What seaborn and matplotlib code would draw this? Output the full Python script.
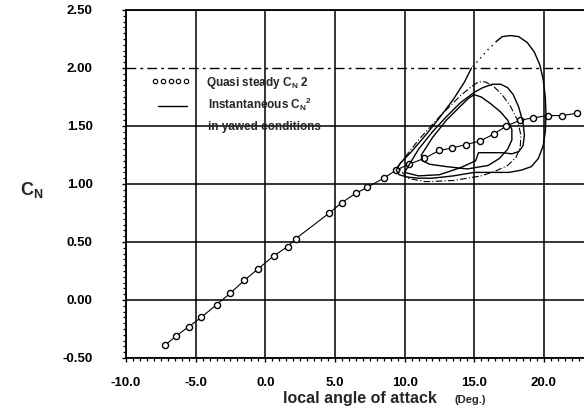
import numpy as np
import pandas as pd
import matplotlib
matplotlib.use("Agg")
import matplotlib.pyplot as plt
import seaborn as sns

# ---------------- data ----------------
qs_alpha = [-7.2, -6.4, -5.5, -4.6, -3.5, -2.5, -1.5, -0.5, 0.6, 1.6, 2.2,
            4.6, 5.5, 6.5, 7.3, 8.5, 9.4, 10.3, 11.4, 12.5, 13.4, 14.4,
            15.4, 16.4, 17.3, 18.3, 19.2, 20.3, 21.3, 22.4]
qs_cn = [-0.39, -0.31, -0.23, -0.15, -0.04, 0.06, 0.17, 0.27, 0.38, 0.46, 0.53,
         0.75, 0.84, 0.92, 0.97, 1.05, 1.12, 1.17, 1.22, 1.29, 1.31, 1.34,
         1.37, 1.43, 1.50, 1.55, 1.57, 1.59, 1.59, 1.61]

# largest loop (solid part)
loop1_alpha = [14.8, 14.3, 13.5, 12.5, 11.5, 10.5, 9.7, 9.4, 9.6, 10.2, 11.0,
               12.0, 13.5, 15.0, 16.5, 17.5, 18.4, 19.1, 19.6, 19.95, 20.1,
               20.15, 20.1, 19.95, 19.7, 19.3, 18.8, 18.2, 17.6, 17.0, 16.6]
loop1_cn = [2.00, 1.88, 1.73, 1.57, 1.42, 1.28, 1.18, 1.12, 1.08, 1.06, 1.05,
            1.05, 1.07, 1.10, 1.10, 1.10, 1.12, 1.15, 1.22, 1.33, 1.45,
            1.60, 1.75, 1.90, 2.03, 2.14, 2.22, 2.27, 2.28, 2.27, 2.23]
# largest loop (dotted part)
loop1d_alpha = [16.6, 16.0, 15.4, 14.8]
loop1d_cn = [2.23, 2.16, 2.08, 2.00]

loop2_alpha = [10.0, 11.0, 12.0, 13.0, 14.0, 15.0, 15.6, 16.3, 16.9, 17.4,
               17.8, 18.2, 18.5, 18.6, 18.5, 18.2, 17.7, 17.0, 15.3, 15.1,
               14.0, 12.5, 11.0, 10.0]
loop2_cn = [1.10, 1.30, 1.45, 1.58, 1.70, 1.79, 1.83, 1.86, 1.86, 1.83,
            1.77, 1.66, 1.53, 1.42, 1.33, 1.28, 1.26, 1.27, 1.27, 1.20,
            1.14, 1.08, 1.07, 1.10]

loop3_alpha = [9.5, 11.0, 12.5, 14.0, 14.8, 15.3, 15.8, 16.4, 17.0, 17.6,
               18.1, 18.35, 18.3, 18.0, 17.4, 16.5, 15.5, 13.5, 11.5, 10.2, 9.5]
loop3_cn = [1.15, 1.38, 1.58, 1.76, 1.84, 1.88, 1.88, 1.84, 1.77, 1.67,
            1.55, 1.42, 1.32, 1.23, 1.16, 1.11, 1.07, 1.03, 1.02, 1.05, 1.15]

loop4_alpha = [11.2, 12.0, 13.0, 14.0, 14.6, 15.0, 15.5, 16.2, 16.9, 17.4,
               17.7, 17.7, 17.4, 16.8, 16.0, 14.5, 13.0, 11.8, 11.3, 11.2]
loop4_cn = [1.25, 1.40, 1.55, 1.67, 1.74, 1.77, 1.75, 1.69, 1.62, 1.55,
            1.47, 1.38, 1.30, 1.22, 1.16, 1.13, 1.15, 1.17, 1.20, 1.25]

x_ticks = [-10, -5, 0, 5, 10, 15, 20]
x_labels = ["-10.0", "-5.0", "0.0", "5.0", "10.0", "15.0", "20.0"]
y_ticks = [-0.5, 0.0, 0.5, 1.0, 1.5, 2.0, 2.5]
y_labels = ["-0.50", "0.00", "0.50", "1.00", "1.50", "2.00", "2.50"]

# ---------------- style ----------------
sns.set_theme(style="white")
plt.rcParams["font.family"] = ["Liberation Sans", "DejaVu Sans"]
plt.rcParams["font.weight"] = "bold"
plt.rcParams["mathtext.fontset"] = "custom"
plt.rcParams["mathtext.rm"] = "Liberation Sans:bold"
plt.rcParams["mathtext.it"] = "Liberation Sans:bold"
plt.rcParams["mathtext.bf"] = "Liberation Sans:bold"

W, H = 584, 420
fig = plt.figure(figsize=(W / 100, H / 100), dpi=100)
ax_left, ax_right, ax_top, ax_bot = 126, 585.7, 10, 358
ax = fig.add_axes([ax_left / W, (H - ax_bot) / H,
                   (ax_right - ax_left) / W, (ax_bot - ax_top) / H])
ax.set_xlim(-10, 23)
ax.set_ylim(-0.5, 2.5)

# grid
ax.set_xticks(x_ticks)
ax.set_xticklabels(x_labels)
ax.set_yticks(y_ticks)
ax.set_yticklabels(y_labels)
ax.set_xticks(np.arange(-10, 23.01, 0.5), minor=True)
ax.set_yticks(np.arange(-0.5, 2.501, 0.05), minor=True)
ax.grid(True, which="major", color="black", lw=1.1)
for tick_val, gl in zip(y_ticks, ax.yaxis.get_gridlines()):
    if abs(tick_val - 2.0) < 1e-9:
        gl.set_linestyle((0, (7, 3, 2, 3)))
        gl.set_linewidth(1.0)

for side in ["left", "bottom", "top"]:
    ax.spines[side].set_visible(True)
    ax.spines[side].set_color("black")
    ax.spines[side].set_linewidth(1.3)
ax.spines["right"].set_visible(False)

ax.tick_params(axis="both", which="major", direction="out", length=3, width=1,
               color="black", labelsize=9.5, labelcolor="black")
ax.tick_params(axis="both", which="minor", direction="out", length=2.5,
               width=0.9, color="black")
ax.tick_params(axis="x", which="major", pad=10.5)
ax.tick_params(axis="y", which="major", pad=21)
ax.tick_params(bottom=True, left=True, which="both")
for lab in ax.get_xticklabels() + ax.get_yticklabels():
    lab.set_fontweight("bold")

# quasi-steady curve
qs_df = pd.DataFrame({"alpha": qs_alpha, "cn": qs_cn})
sns.lineplot(data=qs_df, x="alpha", y="cn", ax=ax, color="black", lw=0.8,
             sort=False, estimator=None, marker="o", markersize=4.4,
             markerfacecolor="white", markeredgecolor="black",
             markeredgewidth=1.0, dashes=False)

# loops
def loop(a, c, **kw):
    df = pd.DataFrame({"alpha": a, "cn": c})
    sns.lineplot(data=df, x="alpha", y="cn", ax=ax, color="black",
                 sort=False, estimator=None, **kw)

loop(loop1_alpha, loop1_cn, lw=1.0)
loop(loop1d_alpha, loop1d_cn, lw=1.0, linestyle=(0, (1, 3)))
loop(loop2_alpha, loop2_cn, lw=1.0)
loop(loop3_alpha, loop3_cn, lw=0.8, linestyle=(0, (6, 2, 1, 2)))
loop(loop4_alpha, loop4_cn, lw=1.0)

ax.set_xlabel("")
ax.set_ylabel("")

# legend (manual)
def fx(px):
    return (px - ax_left) / (ax_right - ax_left)

def fy(py):
    return (ax_bot - py) / (ax_bot - ax_top)

ax.plot([fx(p) for p in np.linspace(155, 186, 5)], [fy(81)] * 5,
        transform=ax.transAxes, ls="none", marker="o", ms=3.2,
        mfc="white", mec="black", mew=0.8, clip_on=False)
ax.plot([fx(158), fx(187)], [fy(106), fy(106)], transform=ax.transAxes,
        color="black", lw=1.0)
ax.text(fx(206), fy(83), r"Quasi steady C$_\mathregular{N}$ 2",
        transform=ax.transAxes, fontsize=8.5, fontweight="bold",
        va="center", ha="left")
ax.text(fx(208), fy(104), r"Instantaneous C$_{\mathregular{N}}{}^{\mathregular{2}}$",
        transform=ax.transAxes, fontsize=8.5, fontweight="bold",
        va="center", ha="left")
ax.text(fx(208), fy(127), "in yawed conditions",
        transform=ax.transAxes, fontsize=8.5, fontweight="bold",
        va="center", ha="left")

# axis titles
fig.text(283 / W, (H - 403) / H, "local angle of attack", fontsize=11.5,
         fontweight="bold", ha="left", va="baseline")
fig.text(455 / W, (H - 403) / H, "(Deg.)", fontsize=8,
         fontweight="bold", ha="left", va="baseline")
fig.text(32 / W, (H - 190) / H, r"C$_\mathregular{N}$", fontsize=13,
         fontweight="bold", ha="center", va="center")

fig.savefig("out.png", dpi=100)
